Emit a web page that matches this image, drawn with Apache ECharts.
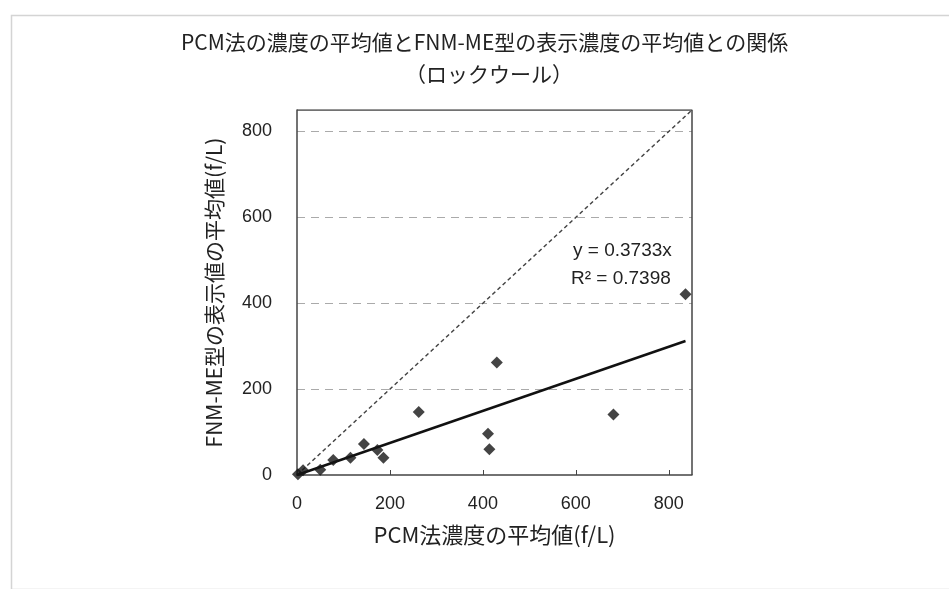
<!DOCTYPE html>
<html>
<head>
<meta charset="utf-8">
<script src="https://cdn.jsdelivr.net/npm/echarts@6/dist/echarts.min.js"></script>
<style>
html,body{margin:0;padding:0;background:#fff;}
#main{width:949px;height:589px;}
</style>
</head>
<body>
<div id="main"></div>
<script>
// Data
const titleText = 'PCM法の濃度の平均値とFNM-ME型の表示濃度の平均値との関係';
const subtitleText = '（ロックウール）';
const xAxisName = 'PCM法濃度の平均値(f/L)';
const yAxisName = 'FNM-ME型の表示値の平均値(f/L)';
const pcmValues = [2, 13, 50, 78, 115, 144, 173, 186, 262, 411, 414, 430, 681, 836];
const fnmValues = [2, 11, 12, 35, 40, 72, 58, 40, 147, 96, 60, 262, 141, 421];
const trendX = [0, 836];
const trendY = [0, 312];
const diagX = [0, 850];
const diagY = [0, 850];
const axisMin = 0;
const axisMax = 850;
const axisInterval = 200;
const equationText = 'y = 0.3733x';
const r2Text = 'R² = 0.7398';

const scatterData = pcmValues.map((v, i) => [v, fnmValues[i]]);
const trendData = trendX.map((v, i) => [v, trendY[i]]);
const diagData = diagX.map((v, i) => [v, diagY[i]]);

const chart = echarts.init(document.getElementById('main'), null, {renderer: 'canvas'});
const numFont = '"Liberation Sans", Arial, sans-serif';
const jpFont = '"Noto Sans CJK JP", "Noto Sans", sans-serif';

chart.setOption({
  backgroundColor: '#fff',
  animation: false,
  title: [
    {text: titleText, left: 176, top: 27, textStyle: {fontFamily: jpFont, fontSize: 21, fontWeight: 'normal', color: '#222'}},
    {text: subtitleText, left: 400, top: 59, textStyle: {fontFamily: jpFont, fontSize: 21, fontWeight: 'normal', color: '#222'}}
  ],
  graphic: [
    {type: 'rect', left: 9, top: 13, shape: {width: 980, height: 574}, style: {fill: 'none', stroke: '#d4d4d4', lineWidth: 1.5}, silent: true, z: -1},
    {type: 'text', left: 573, top: 241, style: {text: equationText, font: '19px ' + numFont, fill: '#222'}},
    {type: 'text', left: 571, top: 269, style: {text: r2Text, font: '19px ' + numFont, fill: '#222'}}
  ],
  grid: {left: 297, right: 257, top: 110, bottom: 114, show: false},
  xAxis: {
    type: 'value', min: axisMin, max: axisMax, interval: axisInterval,
    name: xAxisName, nameLocation: 'middle', nameGap: 49,
    nameTextStyle: {fontFamily: jpFont, fontSize: 22, color: '#222'},
    axisLine: {show: true, onZero: false, lineStyle: {color: '#444', width: 1.5}},
    axisTick: {show: true, inside: true, length: 5, lineStyle: {color: '#444'}},
    axisLabel: {fontFamily: numFont, fontSize: 18, color: '#222', margin: 20, showMaxLabel: false},
    splitLine: {show: false}
  },
  yAxis: {
    type: 'value', min: axisMin, max: axisMax, interval: axisInterval,
    name: yAxisName, nameLocation: 'middle', nameGap: 72,
    nameTextStyle: {fontFamily: jpFont, fontSize: 21, color: '#222'},
    axisLine: {show: true, onZero: false, lineStyle: {color: '#444', width: 1.5}},
    axisTick: {show: false},
    axisLabel: {fontFamily: numFont, fontSize: 18, color: '#222', margin: 25, showMaxLabel: false},
    splitLine: {show: true, showMinLine: false, showMaxLine: false, lineStyle: {color: '#aaa', type: [8, 6], width: 1}}
  },
  series: [
    {
      type: 'line', data: diagData, symbol: 'none', silent: true,
      lineStyle: {color: '#444', width: 1.5, type: [4, 3]}, z: 2
    },
    {
      type: 'line', data: trendData, symbol: 'none', silent: true,
      lineStyle: {color: '#111', width: 2.5}, z: 3
    },
    {
      type: 'scatter', data: scatterData, symbol: 'diamond', symbolSize: 12,
      itemStyle: {color: '#151515'}, z: 4
    },
    {
      // frame on top and right of the plot area
      type: 'line', data: [[axisMin, axisMax], [axisMax, axisMax], [axisMax, axisMin]], symbol: 'none', silent: true,
      lineStyle: {color: '#444', width: 1.5}, z: 1
    }
  ]
});
</script>
</body>
</html>
